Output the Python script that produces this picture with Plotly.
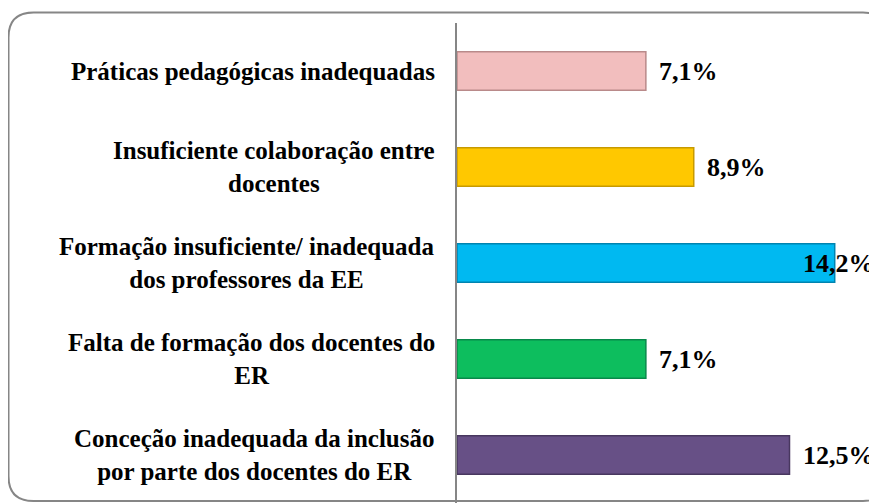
import plotly.graph_objects as go

# categorias de cima para baixo
categorias = [
    "Práticas pedagógicas inadequadas",
    "Insuficiente colaboração entre<br>docentes",
    "Formação insuficiente/ inadequada<br>dos professores da EE",
    "Falta de formação dos docentes do<br>ER",
    "Conceção inadequada da inclusão<br>por parte dos docentes do ER",
]
percentagens = [7.1, 8.9, 14.2, 7.1, 12.5]
cores = ["#F2BEBE", "#FFC800", "#00B9F1", "#0DBE5E", "#675086"]
cores_borda = ["#B98A8A", "#C79A00", "#0084B0", "#08894A", "#48375F"]

# a página tem margem de 8px, por isso a figura fica deslocada
OFF = 8
W, H = 877 - OFF, 504 - OFF
ML, MR, MT, MB = 457 - OFF, 0, 23 - OFF, 1
PW = W - ML - MR
PH = H - MT - MB
XMAX = (877 - 457) / 26.6

fonte = "Liberation Serif"


def px_x(p):
    return (p - OFF - ML) / PW


def px_y(p):
    return 1 - (p - OFF - MT) / PH


fig = go.Figure()
fig.add_trace(
    go.Bar(
        y=categorias,
        x=percentagens,
        orientation="h",
        marker=dict(color=cores, line=dict(color=cores_borda, width=1.5)),
        width=0.4,
        hoverinfo="skip",
    )
)

anotacoes = []
for cat in categorias:
    anotacoes.append(
        dict(
            x=0, xref="paper", y=cat, yref="y",
            text=f"<b>{cat}</b>", showarrow=False,
            xanchor="right", xshift=-20, align="center",
            font=dict(family=fonte, size=25, color="black"),
        )
    )
for cat, v in zip(categorias, percentagens):
    rotulo = f"<b>{v:.1f}".replace(".", ",") + "%</b>"
    if v > 13.5:
        # não cabe à direita da barra: encosta ao limite da área
        pos = dict(x=1, xref="paper", xanchor="right", xshift=0)
    else:
        pos = dict(x=v, xref="x", xanchor="left", xshift=11)
    anotacoes.append(
        dict(
            y=cat, yref="y", text=rotulo, showarrow=False,
            font=dict(family=fonte, size=26, color="black"), **pos,
        )
    )

# moldura arredondada
x0, x1, y0, y1, r = 8.5, 888, 12.5, 501, 25
caminho = (
    f"M {px_x(x0 + r)} {px_y(y0)} L {px_x(x1 - r)} {px_y(y0)} "
    f"Q {px_x(x1)} {px_y(y0)} {px_x(x1)} {px_y(y0 + r)} "
    f"L {px_x(x1)} {px_y(y1 - r)} Q {px_x(x1)} {px_y(y1)} {px_x(x1 - r)} {px_y(y1)} "
    f"L {px_x(x0 + r)} {px_y(y1)} Q {px_x(x0)} {px_y(y1)} {px_x(x0)} {px_y(y1 - r)} "
    f"L {px_x(x0)} {px_y(y0 + r)} Q {px_x(x0)} {px_y(y0)} {px_x(x0 + r)} {px_y(y0)} Z"
)

fig.update_layout(
    width=W, height=H,
    margin=dict(l=ML, r=MR, t=MT, b=MB),
    paper_bgcolor="white", plot_bgcolor="white",
    showlegend=False,
    xaxis=dict(range=[0, XMAX], visible=False, fixedrange=True),
    yaxis=dict(
        type="category", categoryorder="array", categoryarray=categorias,
        range=[4.5, -0.5], showticklabels=False, ticks="",
        showline=True, linecolor="#868686", linewidth=2, showgrid=False,
    ),
    annotations=anotacoes,
    shapes=[
        dict(type="path", path=caminho, xref="paper", yref="paper",
             line=dict(color="#868686", width=2), layer="below")
    ],
)

fig.write_html("out.html")
